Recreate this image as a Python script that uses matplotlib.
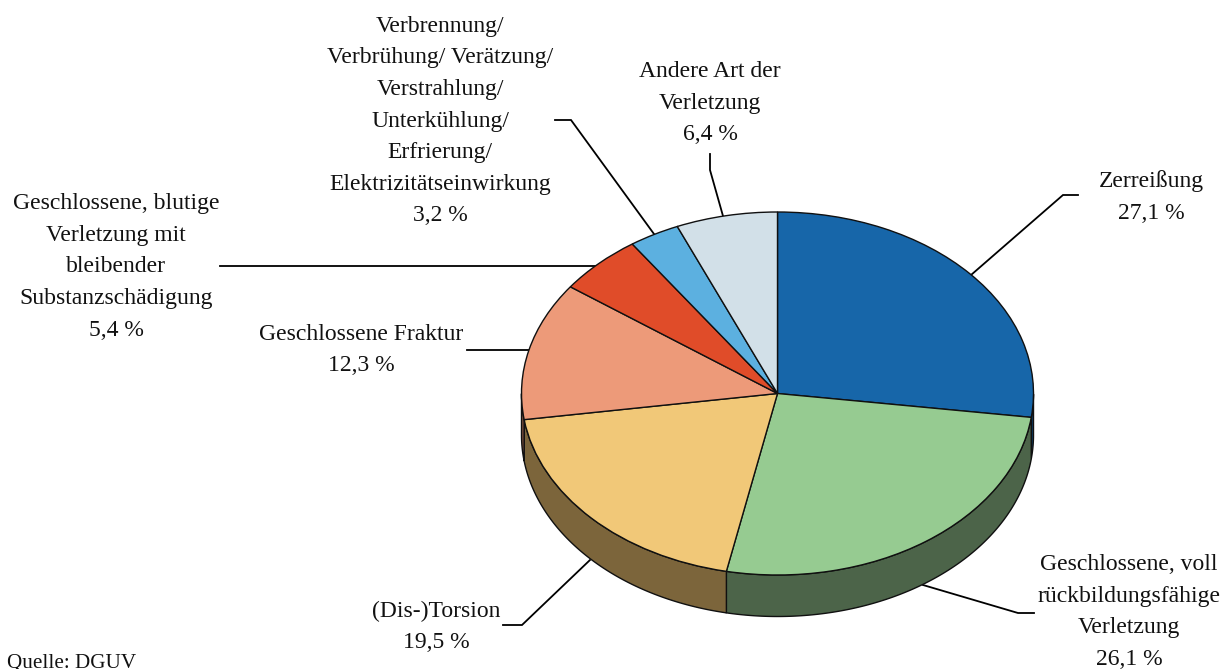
import numpy as np
import matplotlib
matplotlib.use("Agg")
import matplotlib.pyplot as plt
from matplotlib.patches import Polygon

categories = ["Zerreißung", "Geschlossene, voll\nrückbildungsfähige\nVerletzung",
              "(Dis-)Torsion", "Geschlossene Fraktur",
              "Geschlossene, blutige\nVerletzung mit\nbleibender\nSubstanzschädigung",
              "Verbrennung/\nVerbrühung/ Verätzung/\nVerstrahlung/\nUnterkühlung/\nErfrierung/\nElektrizitätseinwirkung",
              "Andere Art der\nVerletzung"]
values = [27.1, 26.1, 19.5, 12.3, 5.4, 3.2, 6.4]
value_labels = ["27,1 %", "26,1 %", "19,5 %", "12,3 %", "5,4 %", "3,2 %", "6,4 %"]
colors = ["#1766A9", "#96CB91", "#F1C878", "#ED9A79", "#E04C29", "#5CB0E0", "#D2E0E8"]
side_colors = ["#0C3A60", "#4C6449", "#7C653B", "#7A4F3D", "#732715", "#2F5A73", "#6C7377"]
source = "Quelle: DGUV"

W, H = 1226, 669
CX, CY, RX, RY, DEPTH = 777.5, 393.5, 256, 181.5, 41.5
label_pos = [(1151, 197), (1129, 612), (436, 627), (361, 350), (116, 267), (440, 121), (710, 103)]
leaders = [[(971, 275), (1063, 195), (1078, 195)],
           [(923, 585), (1018, 613), (1034, 613)],
           [(590, 560), (522, 625), (503, 625)],
           [(529, 350), (467, 350)],
           [(597, 266), (220, 266)],
           [(654, 234), (571, 120), (555, 120)],
           [(723, 216), (710, 170), (710, 154)]]

plt.rcParams["font.family"] = ["Liberation Serif", "DejaVu Serif"]
fig = plt.figure(figsize=(W / 100, H / 100), dpi=100)
ov = fig.add_axes([0, 0, 1, 1], zorder=1)
ov.set_xlim(0, W); ov.set_ylim(H, 0); ov.axis("off")

ax = fig.add_axes([(CX - RX) / W, 1 - (CY + RY) / H, 2 * RX / W, 2 * RY / H], zorder=2)
wedges, _ = ax.pie(values, colors=colors, startangle=90, counterclock=False, radius=1,
                   wedgeprops=dict(edgecolor="#101010", linewidth=1.0, clip_on=False, zorder=3))
ax.set_aspect("auto"); ax.set_xlim(-1, 1); ax.set_ylim(-1, 1); ax.axis("off")

# Rim of the disc: drawn for the part of each slice that faces the viewer
d = DEPTH / RY
for w, c in zip(wedges, side_colors):
    a0, a1 = sorted((w.theta1, w.theta2))
    t = np.linspace(a0, a1, 200)
    t = t[np.sin(np.radians(t)) <= 0.0]
    if t.size < 2:
        # slice may wrap past 360 degrees
        t = np.linspace(a0, a1, 200) - 360
        t = t[np.sin(np.radians(t)) <= 0.0]
    if t.size < 2:
        continue
    x, y = np.cos(np.radians(t)), np.sin(np.radians(t))
    pts = np.r_[np.c_[x, y], np.c_[x[::-1], y[::-1] - d]]
    ax.add_patch(Polygon(pts, closed=True, facecolor=c, edgecolor="#101010", linewidth=1.0,
                         clip_on=False, zorder=2))

for pts in leaders:
    xs, ys = zip(*pts)
    ov.plot(xs, ys, color="black", lw=1.3, solid_joinstyle="miter")

for cat, val, (x, y) in zip(categories, value_labels, label_pos):
    ov.text(x, y, f"{cat}\n{val}", ha="center", va="center", fontsize=17,
            linespacing=1.66, color="#111111")
ov.text(7, 668, source, ha="left", va="baseline", fontsize=15.2, color="#111111")

fig.savefig("out.png", dpi=100)
